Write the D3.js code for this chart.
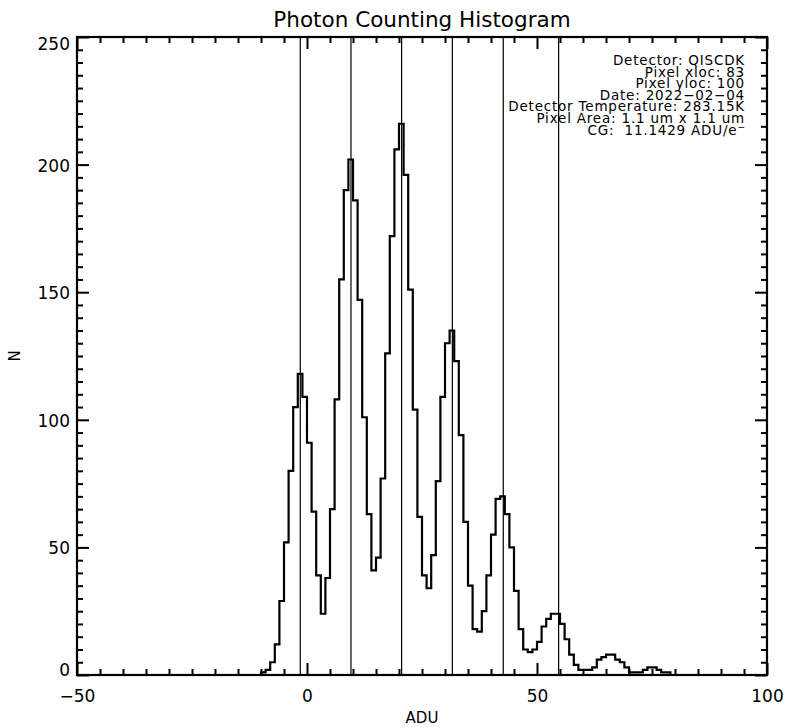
<!DOCTYPE html>
<html>
<head>
<meta charset="utf-8">
<script src="https://cdn.jsdelivr.net/npm/d3@7"></script>
<style>
  html, body { margin: 0; padding: 0; background: #fff; }
  svg { display: block; font-family: "DejaVu Sans", sans-serif; }
</style>
</head>
<body>
<svg id="chart" width="785" height="727"></svg>
<script>
// ---- data ----
const binLeftEdges = [-11,-10,-9,-8,-7,-6,-5,-4,-3,-2,-1,0,1,2,3,4,5,6,7,8,9,10,11,12,13,14,15,16,17,18,19,20,
  21,22,23,24,25,26,27,28,29,30,31,32,33,34,35,36,37,38,39,40,41,42,43,44,45,46,47,48,49,50,
  51,52,53,54,55,56,57,58,59,60,61,62,63,64,65,66,67,68,69,70,71,72,73,74,75,76,77,78,79];
const counts = [0,1,2,5,12,29,52,80,105,118,109,91,64,39,24,38,65,108,155,190,202,186,147,101,63,41,46,77,126,172,206,216,
  196,151,104,62,39,34,47,76,109,130,135,123,94,60,35,18,17,25,39,55,69,70,63,50,33,18,10,9,10,13,
  19,22,24,24,20,14,8,4,2,2,2,3,6,7,8,8,6,5,3,1,1,1,2,3,3,2,1,1,0];
const binWidth = 1;
const peakLines = [-1.46, 9.56, 20.57, 31.6, 42.67, 54.7];
const xDomain = [-50, 100];
const yDomain = [0, 250];
const xMajorTicks = [-50, 0, 50, 100];
const xTickLabels = ["\u221250", "0", "50", "100"];
const yMajorTicks = [0, 50, 100, 150, 200, 250];
const yTickLabels = ["0", "50", "100", "150", "200", "250"];
const minorStep = 5;
const titleText = "Photon Counting Histogram";
const xTitle = "ADU";
const yTitle = "N";
const infoLines = [
  "Detector: QISCDK",
  "Pixel xloc: 83",
  "Pixel yloc: 100",
  "Date: 2022\u221202\u221204",
  "Detector Temperature: 283.15K",
  "Pixel Area: 1.1 um x 1.1 um",
  "CG:  11.1429 ADU/e"
];

// ---- layout ----
const W = 785, H = 727;
const L = 77, R = 767, T = 37, B = 675;
const svg = d3.select("#chart");
const x = d3.scaleLinear().domain(xDomain).range([L, R]);
const y = d3.scaleLinear().domain(yDomain).range([B, T]);

// peak vertical lines
svg.append("g").selectAll("line").data(peakLines).join("line")
  .attr("x1", d => x(d)).attr("x2", d => x(d))
  .attr("y1", y(yDomain[0])).attr("y2", y(yDomain[1]))
  .attr("stroke", "#000").attr("stroke-width", 1.2);

// histogram step line
const pts = binLeftEdges.map((e, i) => [e, counts[i]]);
const last = binLeftEdges[binLeftEdges.length - 1] + binWidth;
pts.unshift([binLeftEdges[0], 0]);
pts.push([last, counts[counts.length - 1]]);
pts.push([last, 0]);
const line = d3.line().x(d => x(d[0])).y(d => y(d[1])).curve(d3.curveStepAfter);
svg.append("path").datum(pts)
  .attr("d", line)
  .attr("fill", "none").attr("stroke", "#000").attr("stroke-width", 2.2)
  .attr("stroke-linejoin", "miter");

// axes with IDL-like ticks on all sides
const xMinor = d3.range(xDomain[0], xDomain[1] + 0.001, minorStep).filter(v => !xMajorTicks.includes(v));
const yMinor = d3.range(yDomain[0], yDomain[1] + 0.001, minorStep).filter(v => !yMajorTicks.includes(v));
const majLen = 12, minLen = 6;

const axB = d3.axisBottom(x).tickValues(xMajorTicks).tickSize(majLen).tickFormat((d, i) => xTickLabels[i]);
const axT = d3.axisTop(x).tickValues(xMajorTicks).tickSize(majLen).tickFormat("");
const axL = d3.axisLeft(y).tickValues(yMajorTicks).tickSize(majLen).tickFormat("");
const axR = d3.axisRight(y).tickValues(yMajorTicks).tickSize(majLen).tickFormat("");

function styleAxis(g) {
  g.select(".domain").remove();
  g.selectAll(".tick line").attr("stroke", "#000").attr("stroke-width", 2);
}

// bottom major: ticks point inward (up)
const gB = svg.append("g").attr("transform", `translate(0,${B})`).call(axB.tickSize(-majLen)).call(styleAxis);
gB.selectAll(".tick text").attr("y", 27).attr("dy", 0).attr("font-size", 17).attr("fill", "#000")
  .attr("font-family", "DejaVu Sans");
svg.append("g").attr("transform", `translate(0,${B})`)
  .call(d3.axisBottom(x).tickValues(xMinor).tickSize(-minLen).tickFormat("")).call(styleAxis);
// top
svg.append("g").attr("transform", `translate(0,${T})`).call(axT.tickSize(-majLen)).call(styleAxis);
svg.append("g").attr("transform", `translate(0,${T})`)
  .call(d3.axisTop(x).tickValues(xMinor).tickSize(-minLen).tickFormat("")).call(styleAxis);
// left
svg.append("g").attr("transform", `translate(${L},0)`).call(axL.tickSize(-majLen)).call(styleAxis);
svg.append("g").attr("transform", `translate(${L},0)`)
  .call(d3.axisLeft(y).tickValues(yMinor).tickSize(-minLen).tickFormat("")).call(styleAxis);
// right
svg.append("g").attr("transform", `translate(${R},0)`).call(axR.tickSize(-majLen)).call(styleAxis);
svg.append("g").attr("transform", `translate(${R},0)`)
  .call(d3.axisRight(y).tickValues(yMinor).tickSize(-minLen).tickFormat("")).call(styleAxis);

// y tick labels (kept inside the axis extent like the original)
svg.append("g").selectAll("text").data(yMajorTicks).join("text")
  .attr("x", L - 7)
  .attr("y", d => Math.min(Math.max(y(d) + 1, T + 7), B - 5))
  .attr("text-anchor", "end").attr("dominant-baseline", "central")
  .attr("font-size", 17).text((d, i) => yTickLabels[i]);

// frame
svg.append("rect").attr("x", L).attr("y", T).attr("width", R - L).attr("height", B - T)
  .attr("fill", "none").attr("stroke", "#000").attr("stroke-width", 2.2);

// titles
svg.append("text").attr("x", (L + R) / 2).attr("y", 27).attr("text-anchor", "middle")
  .attr("font-size", 21.5).text(titleText);
svg.append("text").attr("x", (L + R) / 2).attr("y", 723).attr("text-anchor", "middle")
  .attr("font-size", 15).text(xTitle);
svg.append("text").attr("transform", `translate(20,${(T + B) / 2}) rotate(-90)`)
  .attr("text-anchor", "middle").attr("font-size", 15).text(yTitle);

// info block
const info = svg.append("g");
infoLines.forEach((s, i) => {
  const t = info.append("text").attr("x", 745).attr("y", 65 + i * 11.6)
    .attr("text-anchor", "end").attr("font-size", 13.5).attr("letter-spacing", 0.8)
    .attr("xml:space", "preserve").text(s);
  if (i === infoLines.length - 1) {
    t.append("tspan").attr("dy", -5).attr("font-size", 9).attr("letter-spacing", 0).text("\u2212");
  }
});
</script>
</body>
</html>
